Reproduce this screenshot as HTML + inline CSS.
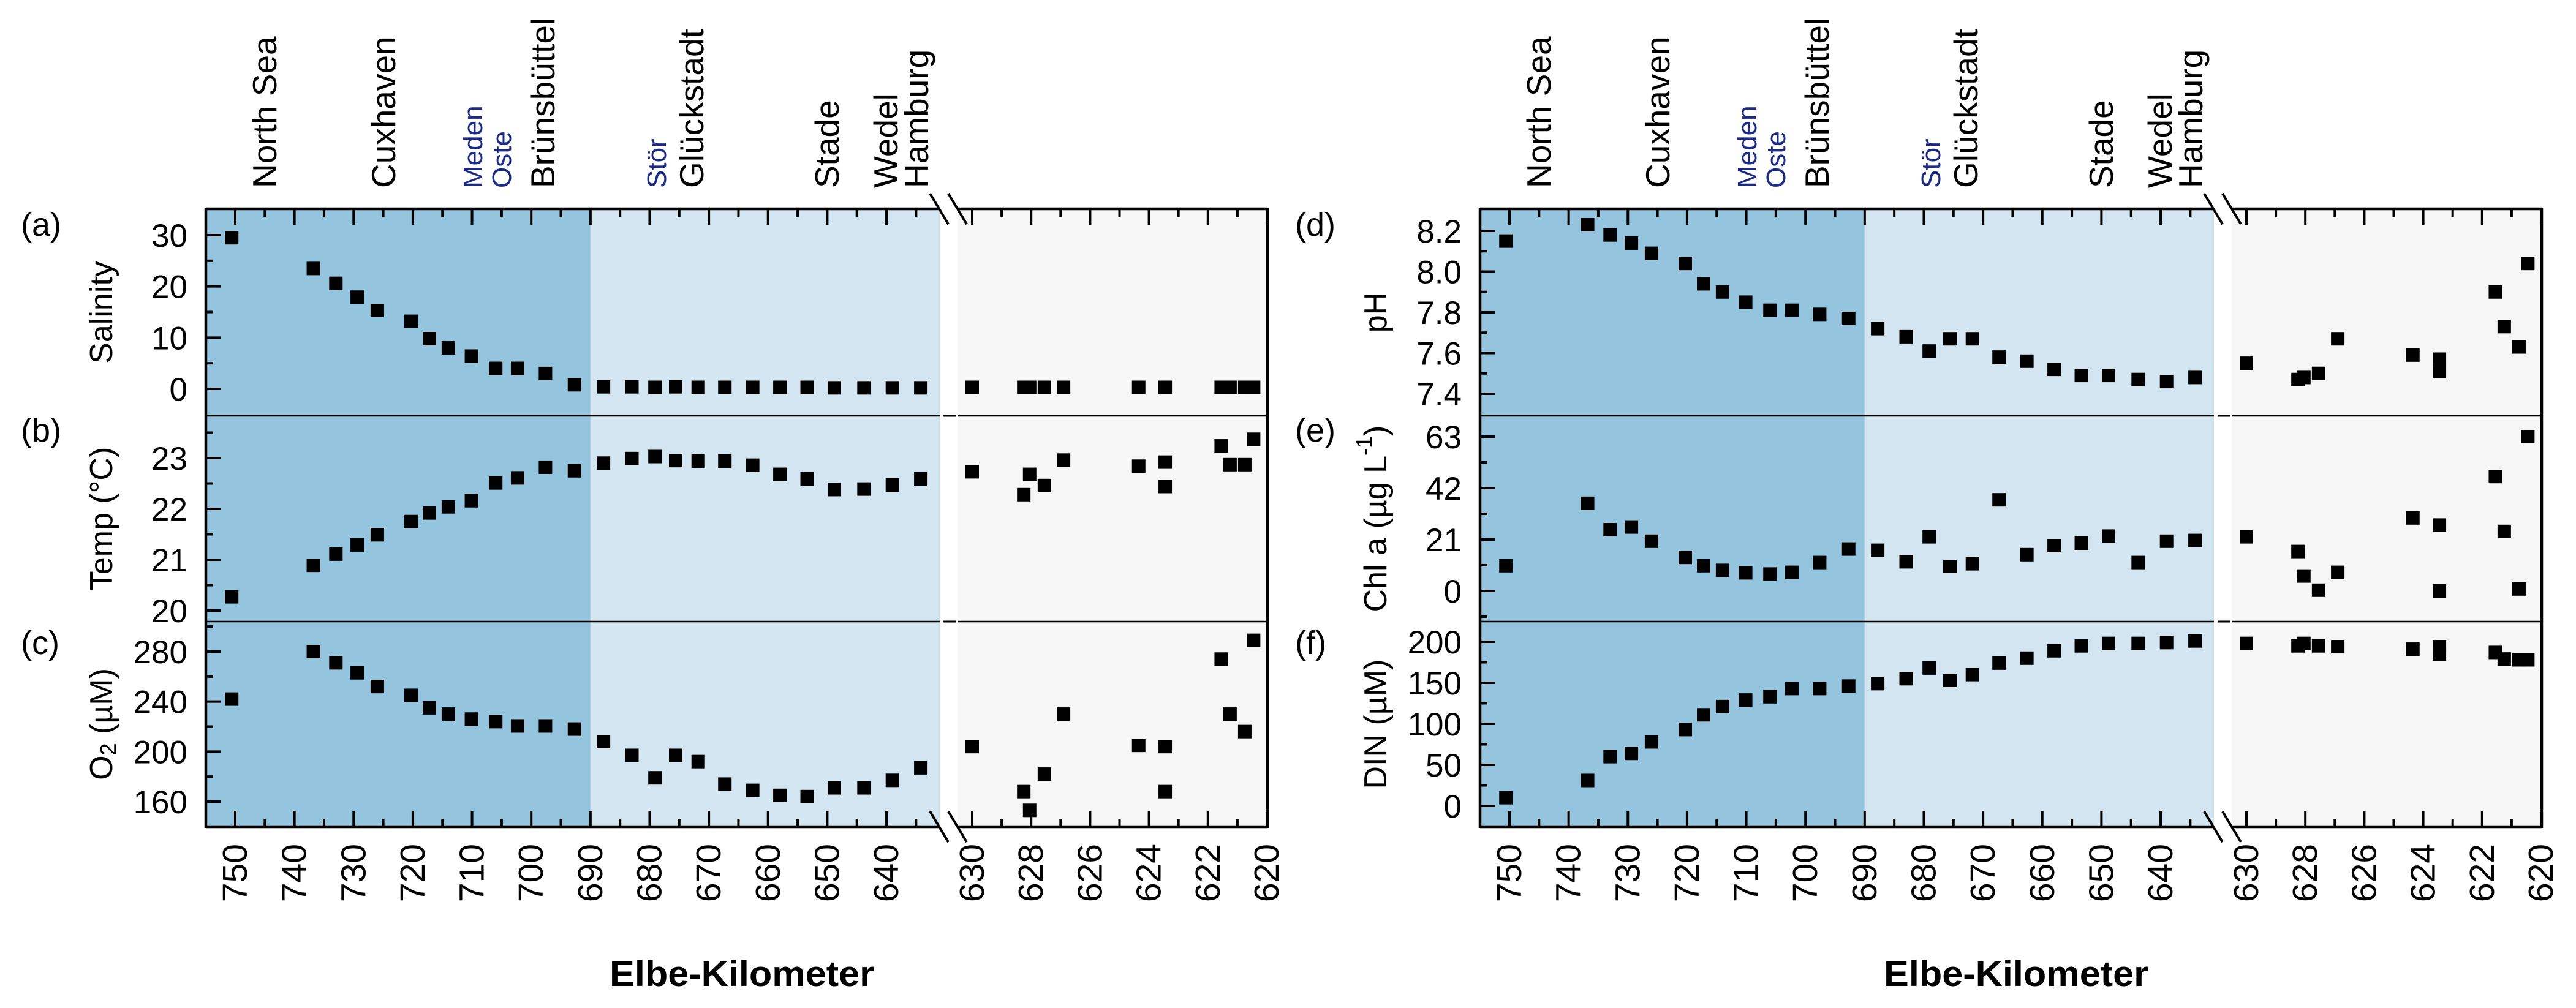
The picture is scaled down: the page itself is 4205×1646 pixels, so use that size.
<!DOCTYPE html>
<html><head><meta charset="utf-8"><style>
html,body{margin:0;padding:0;background:#fff;}
svg{display:block;font-family:"Liberation Sans",Arial,sans-serif;}
</style></head><body>
<svg id="fig" width="4205" height="1646" viewBox="0 0 4205 1646" xmlns="http://www.w3.org/2000/svg"></svg>
<script>
// ---- data ----
const mainKm = [750.6,736.8,733.0,729.4,726.0,720.3,717.2,714.0,710.1,706.0,702.3,697.6,692.7,687.8,683.0,679.1,675.6,671.8,667.3,662.6,658.0,653.4,648.8,643.8,639.0,634.2];
const rightKm = [630.0,628.25,628.05,627.55,626.9,624.35,623.45,623.45,621.55,621.25,620.75,620.45];
const salMain = [29.5,23.5,20.6,17.9,15.3,13.2,9.8,8.0,6.4,4.0,4.0,3.0,0.8,0.4,0.4,0.3,0.4,0.3,0.3,0.3,0.3,0.3,0.2,0.2,0.2,0.2];
const salRight = [0.3,0.3,0.3,0.3,0.3,0.3,0.3,0.3,0.3,0.3,0.3,0.3];
const tempMain = [20.27,20.89,21.11,21.29,21.49,21.75,21.92,22.04,22.16,22.51,22.61,22.82,22.75,22.90,22.99,23.03,22.95,22.94,22.94,22.86,22.68,22.59,22.38,22.39,22.47,22.59];
const tempRight = [22.73,22.28,22.68,22.46,22.96,22.84,22.92,22.44,23.24,22.87,22.87,23.37];
const o2Main = [242,280,271,263,252,245,235,230,226,224,220.5,220.5,218,208,197,179,197,192,174,169,165,164,171,171,177,187];
const o2Right = [204,168,153,182,230,205,204,168,274,230,216,289];
const phMain = [8.15,8.23,8.18,8.14,8.09,8.04,7.94,7.90,7.85,7.81,7.81,7.79,7.77,7.72,7.68,7.61,7.67,7.67,7.58,7.56,7.52,7.49,7.49,7.47,7.46,7.48];
const phRight = [7.55,7.47,7.48,7.50,7.67,7.59,7.57,7.51,7.90,7.73,7.63,8.04];
const chlMain = [10.3,35.8,25.0,26.1,20.3,13.7,10.3,8.4,7.4,6.9,7.6,11.6,17.1,16.6,11.9,22.1,10.0,11.1,37.2,14.8,18.5,19.5,22.4,11.6,20.3,20.6];
const chlRight = [22.1,16.1,6.1,0.3,7.6,29.8,26.9,0.0,46.7,24.3,0.8,63.0];
const dinMain = [10,31,60,64,78,93,111,121,129,133,143,143,146,149,155,168,153,160,174,180,189,195,198,198,199,201];
const dinRight = [198,195,198,195,194,191,194,185,187,179,178,178];
const mainTickLabels = [750,740,730,720,710,700,690,680,670,660,650,640];
const rightTickLabels = [630,628,626,624,622,620];
const salTicks = [0,10,20,30];
const tempTicks = [20,21,22,23];
const o2Ticks = [160,200,240,280];
const phTicks = [7.4,7.6,7.8,8.0,8.2];
const chlTicks = [0,21,42,63];
const dinTicks = [0,50,100,150,200];
const stations = ["North Sea","Cuxhaven","Meden","Oste","Brünsbüttel","Stör","Glückstadt","Stade","Wedel","Hamburg"];
const stationX = [451,645,787,834,905,1087,1148,1369,1465,1515];
const stationTrib = [false,false,true,true,false,true,false,false,false,false];

const NS="http://www.w3.org/2000/svg";
const svg=document.getElementById('fig');
function el(tag,attrs,parent,txt){const e=document.createElementNS(NS,tag);for(const k in attrs)e.setAttribute(k,attrs[k]);if(txt!==undefined)e.textContent=txt;(parent||svg).appendChild(e);return e;}

const TOP=341,BOT=1350,D1=679,D2=1015,LEFT=336,BRK0=1534,BRK1=1563,RIGHT=2069;
function xMain(ox,km){return ox+384+(750-km)*9.664;}
function xRight(ox,km){return ox+1587+(630-km)*48.1;}
function yLin(v0,p0,v1,p1){return v=>p0+(v-v0)*(p1-p0)/(v1-v0);}

function panel(g,ox,y0,y1,ys,ticks,minors,fmt,mainVals,rightVals,name){
  const pg=el('g',{},g);
  
  
  ticks.forEach(t=>{const y=ys(t);
    el('line',{x1:ox+LEFT,x2:ox+LEFT+24,y1:y,y2:y,stroke:'#000','stroke-width':4},pg);
    const tx=el('text',{x:ox+306,y:y+19,'font-size':53,'text-anchor':'end'},pg,fmt(t));
    
    
  });
  minors.forEach(t=>{const y=ys(t);if(y>y0+3&&y<y1-3)el('line',{x1:ox+LEFT,x2:ox+LEFT+12,y1:y,y2:y,stroke:'#000','stroke-width':4},pg);});
  mainKm.forEach((k,i)=>{const r=el('rect',{x:xMain(ox,k)-11,y:ys(mainVals[i])-11,width:22,height:22,fill:'#000'},pg);
    
    });
  rightKm.forEach((k,i)=>{const r=el('rect',{x:xRight(ox,k)-11,y:ys(rightVals[i])-11,width:22,height:22,fill:'#000'},pg);
    
    });
}

function chart(ox,name,cfg){
  const g=el('g',{});
  
  
  el('rect',{x:ox+LEFT,y:TOP,width:xMain(ox,690)-ox-LEFT,height:BOT-TOP,fill:'#95c5de'},g);
  el('rect',{x:xMain(ox,690),y:TOP,width:ox+BRK0-xMain(ox,690),height:BOT-TOP,fill:'#d2e5f0'},g);
  el('rect',{x:ox+BRK1,y:TOP,width:RIGHT-BRK1,height:BOT-TOP,fill:'#f6f6f6'},g);
  for(let k=755;k>=631;k-=5){const x=xMain(ox,k);if(x<ox+LEFT+3||x>ox+BRK0-2)continue;const L=(k%10===0)?26:13;
    el('line',{x1:x,x2:x,y1:TOP,y2:TOP+L,stroke:'#000','stroke-width':4},g);
    el('line',{x1:x,x2:x,y1:BOT,y2:BOT-L,stroke:'#000','stroke-width':4},g);}
  for(let k=630;k>=620;k--){const x=xRight(ox,k);const L=(k%2===0)?26:13;
    el('line',{x1:x,x2:x,y1:TOP,y2:TOP+L,stroke:'#000','stroke-width':4},g);
    el('line',{x1:x,x2:x,y1:BOT,y2:BOT-L,stroke:'#000','stroke-width':4},g);}
  mainTickLabels.forEach(k=>{const x=xMain(ox,k);const t=el('text',{x:0,y:0,'font-size':57,'text-anchor':'end','dominant-baseline':'central',transform:`translate(${x},1378) rotate(-90)`},g,String(k));
    
    });
  rightTickLabels.forEach(k=>{const x=xRight(ox,k);const t=el('text',{x:0,y:0,'font-size':57,'text-anchor':'end','dominant-baseline':'central',transform:`translate(${x},1378) rotate(-90)`},g,String(k));
    
    });
  cfg.forEach((c,i)=>{
    const y0=[TOP,D1,D2][i],y1=[D1,D2,BOT][i];
    panel(g,ox,y0,y1,c.ys,c.ticks,c.minors,c.fmt,c.main,c.right,c.name);
    const pl=el('text',{x:ox+34,y:[385,721,1068][i],'font-size':54},g,c.label);
    
    
    const tt=el('text',{x:0,y:0,'font-size':52,'text-anchor':'middle','dominant-baseline':'central',transform:`translate(${ox+166},${(y0+y1)/2}) rotate(-90)`},g);
    
    
    c.title(tt);
  });
  const st={stroke:'#000','stroke-width':4.5,fill:'none'};
  el('line',Object.assign({x1:ox+LEFT,x2:ox+LEFT,y1:TOP-2,y2:BOT+2},st),g);
  el('line',Object.assign({x1:ox+RIGHT,x2:ox+RIGHT,y1:TOP-2,y2:BOT+2},st),g);
  [TOP,BOT].forEach(y=>{el('line',Object.assign({x1:ox+LEFT,x2:ox+BRK0,y1:y,y2:y},st),g);el('line',Object.assign({x1:ox+BRK1,x2:ox+RIGHT,y1:y,y2:y},st),g);});
  [D1,D2].forEach(y=>{el('line',{x1:ox+LEFT,x2:ox+RIGHT,y1:y,y2:y,stroke:'#000','stroke-width':2.5},g);
    el('rect',{x:ox+BRK0,y:y-4,width:BRK1-BRK0,height:8,fill:'#fff'},g);
    el('line',{x1:ox+BRK0+6,x2:ox+BRK1-2,y1:y,y2:y,stroke:'#000','stroke-width':3},g);});
  [TOP,BOT].forEach(y=>{[0,30].forEach(d=>{el('line',{x1:ox+1518+d,y1:y-25,x2:ox+1548+d,y2:y+25,stroke:'#000','stroke-width':4},g);});});
  stations.forEach((s,i)=>{const trib=stationTrib[i];
    const t=el('text',{x:0,y:0,'font-size':trib?44:55,fill:trib?'#1a2a85':'#000',transform:`translate(${ox+stationX[i]},307) rotate(-90)`},g,s);
    
    });
  const xt=el('text',{x:ox+1211,y:1610,'font-size':58,'font-weight':'bold','text-anchor':'middle',textLength:432,lengthAdjust:'spacingAndGlyphs'},g,'Elbe-Kilometer');
  
  
}
function rng(a,b,s){const r=[];for(let v=a;v<=b+1e-9;v+=s)r.push(+v.toFixed(3));return r;}
chart(0,'left-chart',[
 {name:'salinity',label:'(a)',ys:yLin(30,384,0,635),ticks:salTicks,minors:rng(-5,35,10),fmt:v=>String(v),main:salMain,right:salRight,title:t=>{t.textContent='Salinity';}},
 {name:'temp',label:'(b)',ys:yLin(23,748,20,997),ticks:tempTicks,minors:rng(19.5,23.5,1),fmt:v=>String(v),main:tempMain,right:tempRight,title:t=>{t.textContent='Temp (°C)';}},
 {name:'oxygen',label:'(c)',ys:yLin(280,1064,160,1309),ticks:o2Ticks,minors:rng(140,300,40),fmt:v=>String(v),main:o2Main,right:o2Right,title:t=>{el('tspan',{},t,'O');el('tspan',{'font-size':36,dy:10},t,'2');el('tspan',{dy:-10},t,' (µM)');}}
]);
chart(2080,'right-chart',[
 {name:'ph',label:'(d)',ys:yLin(8.2,377,7.4,643),ticks:phTicks,minors:rng(7.3,8.3,0.2),fmt:v=>v.toFixed(1),main:phMain,right:phRight,title:t=>{t.textContent='pH';}},
 {name:'chl',label:'(e)',ys:yLin(63,713,0,965),ticks:chlTicks,minors:rng(-10.5,73.5,21),fmt:v=>String(v),main:chlMain,right:chlRight,title:t=>{el('tspan',{},t,'Chl a (µg L');el('tspan',{'font-size':36,dy:-20},t,'-1');el('tspan',{dy:20},t,')');}},
 {name:'din',label:'(f)',ys:yLin(200,1048,0,1316),ticks:dinTicks,minors:rng(-25,225,50),fmt:v=>String(v),main:dinMain,right:dinRight,title:t=>{t.textContent='DIN (µM)';}}
]);
</script>
</body></html>
